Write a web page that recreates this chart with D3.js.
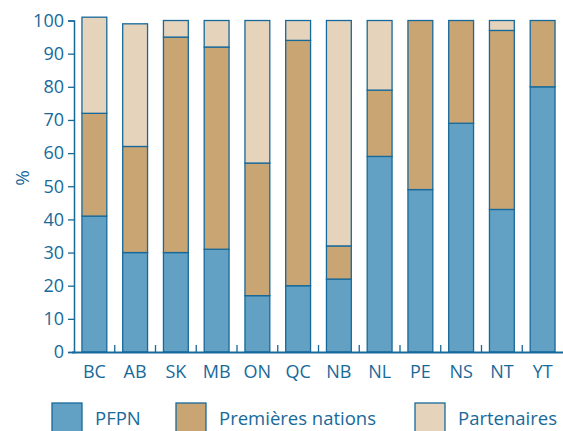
<!DOCTYPE html>
<html>
<head>
<meta charset="utf-8">
<script src="https://cdn.jsdelivr.net/npm/d3@7"></script>
<style>
  body { margin: 0; background: #fff; }
  svg text { font-family: "Open Sans", "Noto Sans", sans-serif; fill: #17699a; }
</style>
</head>
<body>
<svg id="chart" width="563" height="431"></svg>
<script>
const regions = ["BC", "AB", "SK", "MB", "ON", "QC", "NB", "NL", "PE", "NS", "NT", "YT"];
const pfpn = [41, 30, 30, 31, 17, 20, 22, 59, 49, 69, 43, 80];
const premieresNations = [31, 32, 65, 61, 40, 74, 10, 20, 51, 31, 54, 20];
const partenaires = [29, 37, 5, 8, 43, 6, 68, 21, 0, 0, 3, 0];
const seriesNames = ["PFPN", "Premières nations", "Partenaires"];
const yTicks = [0, 10, 20, 30, 40, 50, 60, 70, 80, 90, 100];

const svg = d3.select("#chart");
const ink = "#17699a";
const color = d3.scaleOrdinal().domain(seriesNames).range(["#62a0c4", "#c9a574", "#e6d3bc"]);

// Build rows for the stack
const rows = regions.map((r, i) => ({
    region: r,
    "PFPN": pfpn[i],
    "Premières nations": premieresNations[i],
    "Partenaires": partenaires[i]
}));
const stacked = d3.stack().keys(seriesNames)(rows);

const x = d3.scaleBand().domain(regions).range([74, 563])
    .paddingInner(0.39).paddingOuter(0.195);
const y = d3.scaleLinear().domain([0, 100]).range([352, 20.5]);

// Bars
svg.append("g")
    .selectAll("g")
    .data(stacked)
    .enter().append("g")
    .attr("fill", d => color(d.key))
    .selectAll("rect")
    .data(d => d.filter(s => s[1] > s[0]))
    .enter().append("rect")
    .attr("x", d => x(d.data.region))
    .attr("y", d => y(d[1]))
    .attr("width", x.bandwidth())
    .attr("height", d => y(d[0]) - y(d[1]))
    .attr("stroke", ink)
    .attr("stroke-width", 1.3);

// Y axis
const yAxis = svg.append("g")
    .attr("transform", "translate(74,0)")
    .call(d3.axisLeft(y).tickValues(yTicks).tickSize(6).tickPadding(4));
yAxis.select(".domain").attr("stroke", ink).attr("stroke-width", 1.5);
yAxis.selectAll(".tick line").attr("stroke", ink).attr("stroke-width", 1.3);
yAxis.selectAll(".tick text").attr("font-size", 18).style("fill", ink)
    .attr("font-family", "Open Sans, Noto Sans, sans-serif");

// X axis: baseline, small ticks between bars
svg.append("line")
    .attr("x1", 72).attr("x2", 563)
    .attr("y1", 352.5).attr("y2", 352.5)
    .attr("stroke", ink).attr("stroke-width", 1.8);

svg.append("g")
    .selectAll("line")
    .data(regions.slice(1))
    .enter().append("line")
    .attr("x1", d => x(d) - x.step() * x.paddingInner() / 2)
    .attr("x2", d => x(d) - x.step() * x.paddingInner() / 2)
    .attr("y1", 352).attr("y2", 345)
    .attr("stroke", ink).attr("stroke-width", 1.3);

svg.append("g")
    .selectAll("text")
    .data(regions)
    .enter().append("text")
    .attr("x", d => x(d) + x.bandwidth() / 2)
    .attr("y", 378)
    .attr("text-anchor", "middle")
    .attr("font-size", 18)
    .text(d => d);

// Y label
svg.append("text")
    .attr("transform", "translate(29,178) rotate(-90)")
    .attr("text-anchor", "middle")
    .attr("font-size", 19)
    .text("%");

// Legend
const legendX = [52, 176, 415];
const legend = svg.append("g")
    .selectAll("g")
    .data(seriesNames)
    .enter().append("g")
    .attr("transform", (d, i) => `translate(${legendX[i]},403)`);
legend.append("rect")
    .attr("width", 30).attr("height", 32)
    .attr("fill", d => color(d))
    .attr("stroke", ink).attr("stroke-width", 1.3);
legend.append("text")
    .attr("x", 43).attr("y", 22)
    .attr("font-size", 18.5)
    .text(d => d);
</script>
</body>
</html>
